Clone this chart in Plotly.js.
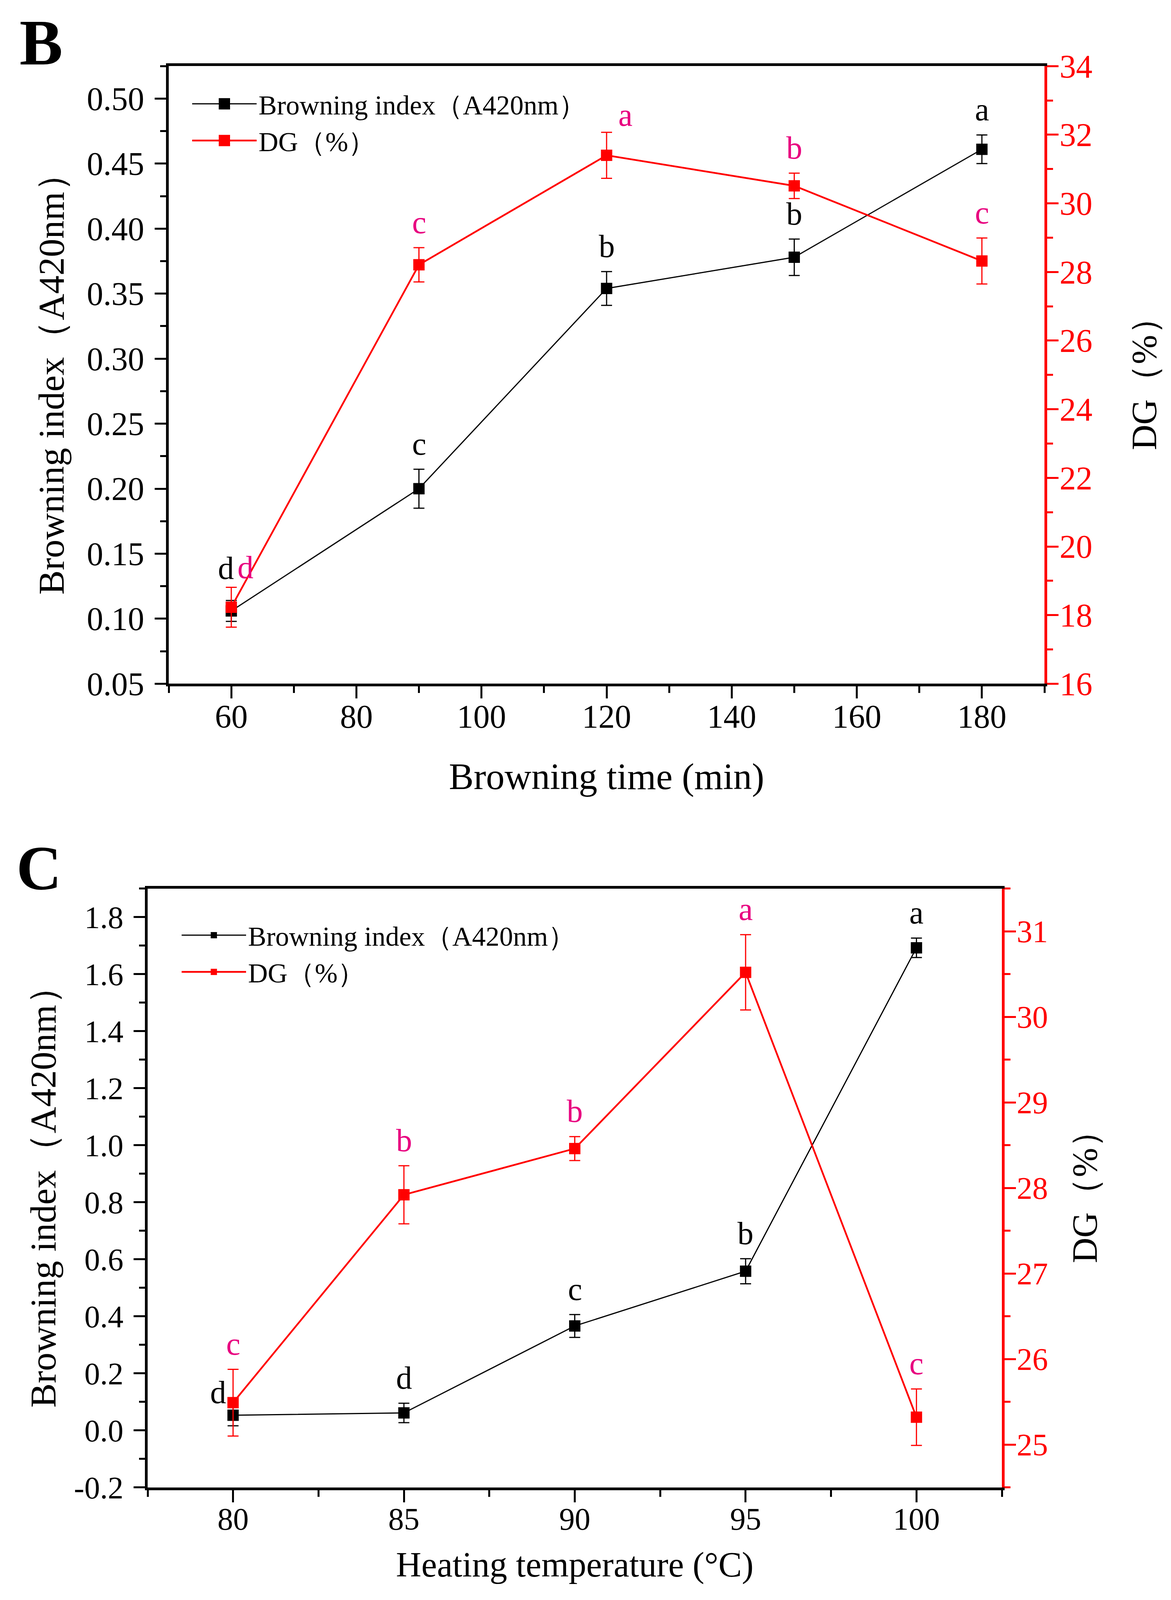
<!DOCTYPE html>
<html>
<head>
<meta charset="utf-8">
<script src="https://cdn.plot.ly/plotly-3.0.1.min.js"></script>
<style>
html,body{margin:0;padding:0;background:#fff;overflow:hidden;}
#chart{width:100vw;height:100vh;}
</style>
</head>
<body>
<div id="chart"></div>
<script>
// ---------- Panel B data ----------
const timeB = [60, 90, 120, 150, 180];
const browningB = [0.106, 0.200, 0.354, 0.378, 0.461];
const browningErrB = [0.008, 0.015, 0.013, 0.014, 0.011];
const dgB = [18.23, 28.21, 31.40, 30.51, 28.32];
const dgErrB = [0.58, 0.50, 0.67, 0.37, 0.67];
const letterBrownB = ['d', 'c', 'b', 'b', 'a'];
const letterDgB = ['d', 'c', 'a', 'b', 'c'];

// ---------- Panel C data ----------
const tempC = [80, 85, 90, 95, 100];
const browningC = [0.053, 0.061, 0.366, 0.558, 1.692];
const browningErrC = [0.037, 0.034, 0.040, 0.044, 0.034];
const dgC = [25.49, 27.92, 28.46, 30.52, 25.32];
const dgErrC = [0.39, 0.34, 0.14, 0.44, 0.33];
const letterBrownC = ['d', 'd', 'c', 'b', 'a'];
const letterDgC = ['c', 'b', 'b', 'a', 'c'];

// tick labels for panel C left axis (hyphen minus as in the original)
const tickValsC = [-0.2, 0, 0.2, 0.4, 0.6, 0.8, 1.0, 1.2, 1.4, 1.6, 1.8];
const tickTextC = ['-0.2', '0.0', '0.2', '0.4', '0.6', '0.8', '1.0', '1.2', '1.4', '1.6', '1.8'];

const legendNames = ['Browning index（A420nm）', 'DG（%）'];

// ---------- styles / geometry ----------
const FONT = 'Liberation Serif, Times New Roman, serif';
const RED = '#ff0000';
const LETTER_RED = '#e8007f';
const REF_W = 2998, REF_H = 4673;
const W = window.innerWidth || REF_W;
const H = window.innerHeight || REF_H;
const SY = H / REF_H;              // vertical scale of the viewport vs. the reference
const SX = W / REF_W;

function px2x(p) { return p / REF_W; }
function py2y(p) { return 1 - p / REF_H; }

const MS = Math.round(29 * Math.min(1, (SX + SY) / 2 + 0.06));

function brownTrace(x, y, e, xa, ya, leg) {
  return {
    x: x, y: y, xaxis: xa, yaxis: ya, legend: leg,
    name: legendNames[0], type: 'scatter', mode: 'lines+markers',
    line: {color: '#000', width: 3},
    marker: {symbol: 'square', size: MS, color: '#000'},
    error_y: {type: 'data', array: e, visible: true, color: '#000', thickness: 3, width: 14 * SX}
  };
}
function dgTrace(x, y, e, xa, ya, leg) {
  return {
    x: x, y: y, xaxis: xa, yaxis: ya, legend: leg,
    name: legendNames[1], type: 'scatter', mode: 'lines+markers',
    line: {color: RED, width: 4.5},
    marker: {symbol: 'square', size: MS, color: RED},
    error_y: {type: 'data', array: e, visible: true, color: RED, thickness: 3, width: 14 * SX}
  };
}

const traces = [
  brownTrace(timeB, browningB, browningErrB, 'x', 'y', 'legend'),
  dgTrace(timeB, dgB, dgErrB, 'x', 'y2', 'legend'),
  brownTrace(tempC, browningC, browningErrC, 'x2', 'y3', 'legend2'),
  dgTrace(tempC, dgC, dgErrC, 'x2', 'y4', 'legend2')
];

const annotations = [];
function addLetters(xs, ys, es, letters, xref, yref, color, special) {
  for (let i = 0; i < xs.length; i++) {
    const s = special && special[i] ? special[i] : {dx: 0, dy: 74};
    annotations.push({
      x: xs[i], y: ys[i] + es[i], xref: xref, yref: yref,
      text: letters[i], showarrow: false, xanchor: 'center', yanchor: 'middle',
      xshift: s.dx * SX, yshift: s.dy * SY,
      font: {family: FONT, size: 82, color: color}
    });
  }
}
addLetters(timeB, browningB, browningErrB, letterBrownB, 'x', 'y', '#000', {0: {dx: -14, dy: 95}});
addLetters(timeB, dgB, dgErrB, letterDgB, 'x', 'y2', LETTER_RED, {0: {dx: 36, dy: 58}, 2: {dx: 48, dy: 50}});
addLetters(tempC, browningC, browningErrC, letterBrownC, 'x2', 'y3', '#000', {0: {dx: -38, dy: 36}});
addLetters(tempC, dgC, dgErrC, letterDgC, 'x2', 'y4', LETTER_RED, null);

// panel letters
annotations.push({x: px2x(48), y: py2y(124), xref: 'paper', yref: 'paper', xanchor: 'left', yanchor: 'middle',
  text: '<b>B</b>', showarrow: false, font: {family: FONT, size: 166, color: '#000'}});
annotations.push({x: px2x(40), y: py2y(2535), xref: 'paper', yref: 'paper', xanchor: 'left', yanchor: 'middle',
  text: '<b>C</b>', showarrow: false, font: {family: FONT, size: 160, color: '#000'}});

function xAxis(domain, range, tick0, dtick, mtick0, mdtick, title, anchor, tfs, tsize, standoff) {
  return {
    domain: domain, range: range, anchor: anchor,
    tickmode: 'linear', tick0: tick0, dtick: dtick,
    ticks: 'outside', ticklen: Math.round(35 * SY), tickwidth: 5, tickcolor: '#000',
    ticklabelstandoff: -26,
    showline: true, linewidth: 7, linecolor: '#000', mirror: true,
    showgrid: false, zeroline: false,
    tickfont: {family: FONT, size: tfs, color: '#000'},
    minor: {tick0: mtick0, dtick: mdtick, ticks: 'outside', ticklen: Math.round(19 * SY), tickwidth: 5, tickcolor: '#000', showgrid: false},
    title: {text: title, font: {family: FONT, size: tsize, color: '#000'}, standoff: standoff}
  };
}
function yLeft(domain, range, extra, title, anchor, tfs, tsize, standoff) {
  return Object.assign({
    domain: domain, range: range, anchor: anchor,
    ticks: 'outside', ticklen: 29, tickwidth: 5, tickcolor: '#000',
    ticklabelstandoff: 10,
    showline: true, linewidth: 7, linecolor: '#000',
    showgrid: false, zeroline: false,
    tickfont: {family: FONT, size: tfs, color: '#000'},
    title: {text: title, font: {family: FONT, size: tsize, color: '#000'}, standoff: standoff}
  }, extra);
}
function yRight(overlay, anchor, range, tick0, dtick, mtick0, mdtick, title, tfs, tsize, standoff) {
  return {
    overlaying: overlay, side: 'right', anchor: anchor, range: range,
    tickmode: 'linear', tick0: tick0, dtick: dtick,
    ticks: 'outside', ticklen: 29, tickwidth: 5, tickcolor: RED,
    ticklabelstandoff: -14,
    showline: true, linewidth: 7, linecolor: RED,
    showgrid: false, zeroline: false,
    tickfont: {family: FONT, size: tfs, color: RED},
    minor: {tick0: mtick0, dtick: mdtick, ticks: 'outside', ticklen: 15, tickwidth: 5, tickcolor: RED, showgrid: false},
    title: {text: title, font: {family: FONT, size: tsize, color: '#000'}, standoff: standoff}
  };
}

const domXB = [px2x(432), px2x(2674)];
const domYB = [py2y(1997), py2y(193)];
const domXC = [px2x(378), px2x(2565)];
const domYC = [py2y(4344), py2y(2595)];

const layout = {
  width: W, height: H,
  margin: {l: 0, r: 0, t: 0, b: 0},
  paper_bgcolor: '#fff', plot_bgcolor: 'rgba(0,0,0,0)',
  font: {family: FONT, color: '#000'},
  showlegend: true,
  xaxis: xAxis(domXB, [50, 190], 60, 20, 50, 10, 'Browning time (min)', 'y', 84, 95, 76),
  yaxis: yLeft(domYB, [0.05, 0.525], {
      tickmode: 'linear', tick0: 0.05, dtick: 0.05, tickformat: '.2f',
      minor: {tick0: 0.025, dtick: 0.025, ticks: 'outside', ticklen: 15, tickwidth: 5, tickcolor: '#000', showgrid: false}
    }, 'Browning index（A420nm）', 'x', 84, 94, 30),
  yaxis2: yRight('y', 'x', [16, 34], 16, 2, 16, 1, 'DG（%）', 84, 90, 104),
  xaxis2: xAxis(domXC, [77.5, 102.5], 80, 5, 77.5, 2.5, 'Heating temperature (°C)', 'y3', 80, 90, 44),
  yaxis3: yLeft(domYC, [-0.2, 1.9], {
      tickmode: 'array', tickvals: tickValsC, ticktext: tickTextC,
      minor: {tick0: -0.2, dtick: 0.1, ticks: 'outside', ticklen: 15, tickwidth: 5, tickcolor: '#000', showgrid: false}
    }, 'Browning index（A420nm）', 'x2', 80, 94, 18),
  yaxis4: yRight('y3', 'x2', [24.5, 31.5], 25, 1, 24.5, 0.5, 'DG（%）', 80, 90, 66),
  legend: {x: px2x(487), y: py2y(244), xanchor: 'left', yanchor: 'top',
    bgcolor: 'rgba(0,0,0,0)', font: {family: FONT, size: 70, color: '#000'}, itemwidth: 165, tracegroupgap: 0},
  legend2: {x: px2x(460), y: py2y(2672), xanchor: 'left', yanchor: 'top',
    bgcolor: 'rgba(0,0,0,0)', font: {family: FONT, size: 70, color: '#000'}, itemwidth: 165, tracegroupgap: 0},
  annotations: annotations
};

Plotly.newPlot('chart', traces, layout, {staticPlot: true, displayModeBar: false}).then(function (gd) {
  // enlarge the legend sample squares to match the plotted markers
  const h = MS / 2;
  gd.querySelectorAll('.legend .legendpoints path.scatterpts').forEach(function (p) {
    p.setAttribute('d', 'M' + h + ',' + h + 'H-' + h + 'V-' + h + 'H' + h + 'Z');
  });
});
</script>
</body>
</html>
